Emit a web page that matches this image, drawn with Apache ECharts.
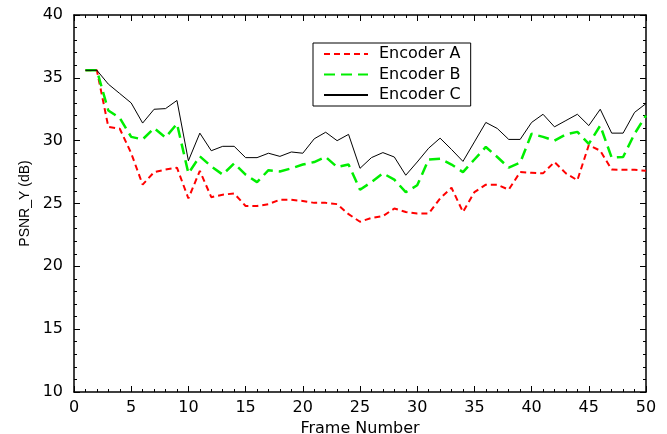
<!DOCTYPE html>
<html>
<head>
<meta charset="utf-8">
<script src="https://cdn.jsdelivr.net/npm/echarts@6/dist/echarts.min.js"></script>
<style>
  html, body { margin: 0; padding: 0; background: #fff; }
  #chart { width: 667px; height: 434px; }
</style>
</head>
<body>
<div id="chart"></div>
<script>
// frame numbers (x)
var frames = [1, 2, 3, 4, 5, 6, 7, 8, 9, 10,
              11, 12, 13, 14, 15, 16, 17, 18, 19, 20,
              21, 22, 23, 24, 25, 26, 27, 28, 29, 30,
              31, 32, 33, 34, 35, 36, 37, 38, 39, 40,
              41, 42, 43, 44, 45, 46, 47, 48, 49, 50];

// PSNR_Y values (dB)
var encoderA = [35.6, 35.6, 31.1, 30.95, 29.0, 26.5, 27.5, 27.7, 27.85, 25.4,
                27.6, 25.5, 25.7, 25.8, 24.8, 24.8, 24.95, 25.3, 25.3, 25.2,
                25.05, 25.05, 24.95, 24.15, 23.55, 23.85, 24.0, 24.6, 24.33, 24.2,
                24.2, 25.4, 26.25, 24.33, 25.9, 26.5, 26.5, 26.1, 27.5, 27.45,
                27.4, 28.3, 27.4, 26.85, 29.65, 29.2, 27.7, 27.68, 27.68, 27.6];
var encoderB = [35.6, 35.6, 32.4, 31.8, 30.3, 30.1, 31.0, 30.25, 31.35, 27.4,
                28.75, 27.95, 27.3, 28.2, 27.3, 26.7, 27.65, 27.55, 27.8, 28.1,
                28.3, 28.7, 27.9, 28.1, 26.1, 26.7, 27.4, 26.9, 25.9, 26.45,
                28.5, 28.57, 28.1, 27.5, 28.5, 29.5, 28.7, 27.85, 28.25, 30.55,
                30.3, 30.0, 30.5, 30.7, 29.75, 31.2, 28.65, 28.7, 30.55, 32.0];
var encoderC = [35.6, 35.6, 34.5, 33.75, 33.0, 31.4, 32.5, 32.55, 33.2, 28.4,
                30.6, 29.2, 29.55, 29.55, 28.65, 28.65, 29.0, 28.75, 29.1, 29.0,
                30.15, 30.67, 30.0, 30.5, 27.8, 28.65, 29.05, 28.7, 27.25, 28.3,
                29.4, 30.2, 29.3, 28.35, 29.9, 31.45, 30.97, 30.1, 30.1, 31.45,
                32.1, 31.1, 31.6, 32.1, 31.2, 32.5, 30.6, 30.6, 32.25, 32.95];

var seriesNames = ['Encoder A', 'Encoder B', 'Encoder C'];

function pairs(vals) {
    var out = [];
    for (var i = 0; i < frames.length; i++) {
        out.push([frames[i], vals[i]]);
    }
    return out;
}

var labelFont = 'DejaVu Sans';

// box axis: ticks inside on all four sides
function boxAxis(pos, min, max, showLabels) {
    return {
        type: 'value',
        position: pos,
        min: min,
        max: max,
        interval: 5,
        axisLine: { show: true, onZero: false, lineStyle: { color: '#000', width: 1.5 } },
        axisTick: { show: true, inside: true, length: 6, lineStyle: { color: '#000', width: 1 } },
        minorTick: { show: true, splitNumber: 5, length: 3, lineStyle: { color: '#000', width: 1 } },
        splitLine: { show: false },
        axisLabel: {
            show: showLabels,
            color: '#000',
            fontFamily: labelFont,
            fontSize: 16,
            margin: 8
        }
    };
}

var xMain = boxAxis('bottom', 0, 50, true);
xMain.name = 'Frame Number';
xMain.nameLocation = 'middle';
xMain.nameGap = 25;
xMain.nameTextStyle = { color: '#000', fontFamily: labelFont, fontSize: 16 };

var yMain = boxAxis('left', 10, 40, true);
yMain.name = 'PSNR_Y (dB)';
yMain.nameLocation = 'middle';
yMain.nameGap = 40;
yMain.nameTextStyle = { color: '#000', fontFamily: 'Liberation Sans', fontSize: 14 };
yMain.axisLabel.margin = 11;

var chart = echarts.init(document.getElementById('chart'), null, { renderer: 'canvas' });
chart.setOption({
    animation: false,
    backgroundColor: '#fff',
    grid: { left: 74, right: 21, top: 15, bottom: 42, outerBoundsMode: 'none' },
    legend: {
        data: seriesNames,
        orient: 'vertical',
        left: 313,
        top: 43,
        itemWidth: 44,
        itemHeight: 14,
        itemGap: 4.5,
        padding: [3, 10, 3, 10],
        borderColor: '#000',
        borderWidth: 1,
        itemStyle: { opacity: 0 },
        textStyle: { color: '#000', fontFamily: labelFont, fontSize: 16, lineHeight: 14, padding: [0, 0, 0, 6] }
    },
    xAxis: [xMain, boxAxis('top', 0, 50, false)],
    yAxis: [yMain, boxAxis('right', 10, 40, false)],
    series: [
        {
            name: seriesNames[0],
            type: 'line',
            data: pairs(encoderA),
            symbol: 'none',
            itemStyle: { color: '#ff0000' },
            lineStyle: { color: '#ff0000', width: 2, type: [6, 4] }
        },
        {
            name: seriesNames[1],
            type: 'line',
            data: pairs(encoderB),
            symbol: 'none',
            itemStyle: { color: '#00ee00' },
            lineStyle: { color: '#00ee00', width: 2.5, type: [11, 6] }
        },
        {
            name: seriesNames[2],
            type: 'line',
            data: pairs(encoderC),
            symbol: 'none',
            itemStyle: { color: '#000' },
            lineStyle: { color: '#000', width: 1 }
        }
    ]
});
</script>
</body>
</html>
